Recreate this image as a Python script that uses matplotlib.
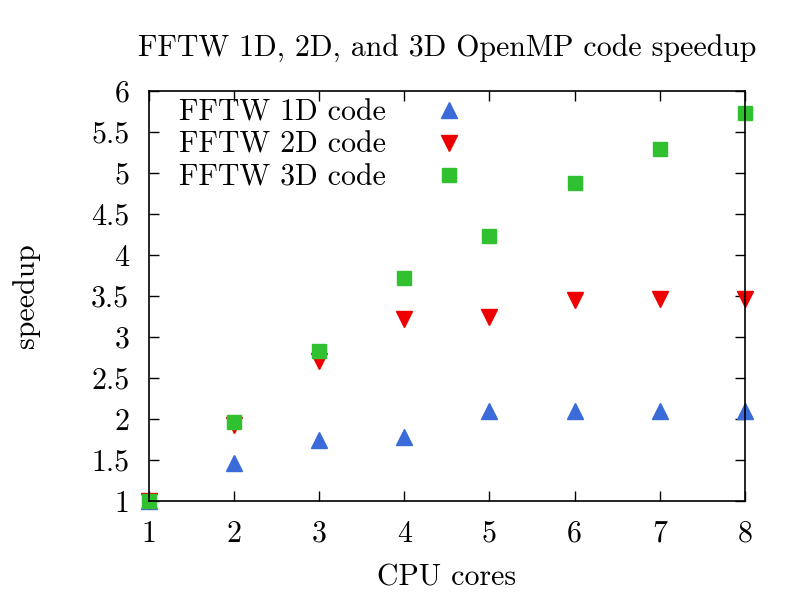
import matplotlib
matplotlib.use("Agg")
import matplotlib.pyplot as plt

cores = [1, 2, 3, 4, 5, 6, 7, 8]
speedup_1d = [1.0, 1.46, 1.74, 1.78, 2.10, 2.10, 2.10, 2.10]
speedup_2d = [1.0, 1.93, 2.71, 3.22, 3.24, 3.45, 3.47, 3.47]
speedup_3d = [1.0, 1.96, 2.83, 3.72, 4.23, 4.88, 5.29, 5.74]
yticks = [1, 1.5, 2, 2.5, 3, 3.5, 4, 4.5, 5, 5.5, 6]
ytick_labels = ["1", "1.5", "2", "2.5", "3", "3.5", "4", "4.5", "5", "5.5", "6"]

plt.rcParams['font.family'] = ['cmr10', 'DejaVu Serif']
plt.rcParams['mathtext.fontset'] = 'cm'
plt.rcParams['axes.formatter.use_mathtext'] = True

FS = 21.5

fig = plt.figure(figsize=(8, 6), dpi=100)
ax = fig.add_axes([0.186, 0.165, 0.745, 0.683])

ax.plot(cores, speedup_1d, linestyle='none', marker='^', color='#3a6bd8', markersize=11, clip_on=False, label='FFTW 1D code')
ax.plot(cores, speedup_2d, linestyle='none', marker='v', color='#ee0000', markersize=11, clip_on=False, label='FFTW 2D code')
ax.plot(cores, speedup_3d, linestyle='none', marker='s', color='#30c030', markersize=10, clip_on=False, label='FFTW 3D code')

ax.set_xlim(1, 8)
ax.set_ylim(1, 6)
ax.set_xticks(cores)
ax.set_xticklabels([str(c) for c in cores])
ax.set_yticks(yticks)
ax.set_yticklabels(ytick_labels)
ax.tick_params(direction='in', length=7, width=1, top=True, right=True, labelsize=FS, pad=14)
for s in ax.spines.values():
    s.set_linewidth(1.2)

ax.set_xlabel('CPU cores', fontsize=FS, labelpad=12)
ax.set_ylabel('speedup', fontsize=FS, labelpad=37)
ax.set_title('FFTW 1D, 2D, and 3D OpenMP code speedup', fontsize=FS, pad=25, x=0.5)

leg = ax.legend(loc='upper left', frameon=False, markerfirst=False, fontsize=FS,
                handletextpad=1.13, borderaxespad=0.0, labelspacing=0.17,
                bbox_to_anchor=(0.03, 1.01))

fig.savefig('out.png', dpi=100)
